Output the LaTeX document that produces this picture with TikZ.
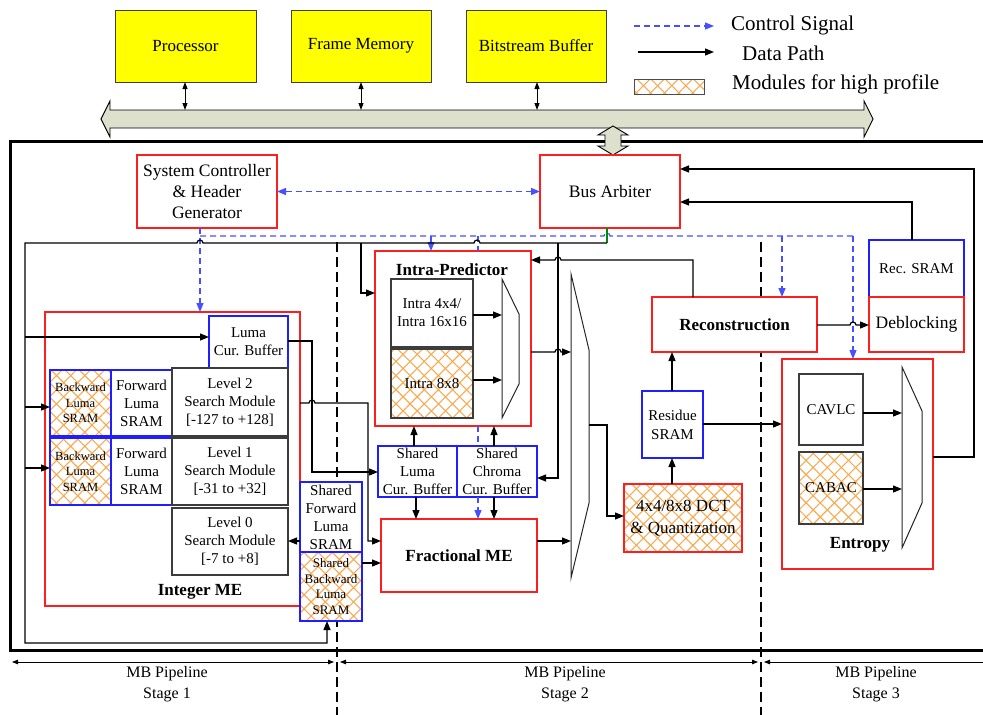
\documentclass[tikz,border=0pt]{standalone}
\usepackage{fontspec}
\setmainfont{Liberation Serif}
\usetikzlibrary{arrows.meta,patterns.meta}
\definecolor{cred}{RGB}{255,30,30}
\definecolor{cblue}{RGB}{30,30,255}
\definecolor{cgray}{RGB}{60,60,60}
\definecolor{cyellow}{RGB}{255,255,0}
\definecolor{chatch}{RGB}{248,170,80}
\definecolor{cctl}{RGB}{70,80,255}
\definecolor{cgreen}{RGB}{0,140,0}
\definecolor{cbus}{RGB}{221,224,204}
\newcommand\fsz[2]{\fontsize{#1pt}{#2pt}\selectfont}
\newcommand\bx[7]{\node[#1,minimum width={#5pt-#3pt},minimum height={#6pt-#4pt}] (#2) at ({(#3+#5)/2},{(#4+#6)/2}) {#7};}
\tikzset{
  base/.style={inner sep=0pt,outer sep=0pt,align=center,text=black,font=\fsz{15}{18}},
  redbox/.style={base,draw=cred,line width=1.4pt,fill=white},
  bluebox/.style={base,draw=cblue,line width=1.2pt,fill=white},
  graybox/.style={base,draw=cgray,line width=1.1pt,fill=white},
  ybox/.style={base,draw=black!75,line width=0.9pt,fill=cyellow,font=\fsz{17}{20}},
  hatched/.style={fill=none,
    preaction={fill=white},
    preaction={pattern={Lines[angle=45,distance=10pt,line width=1.1pt]},pattern color=chatch},
    preaction={pattern={Lines[angle=-45,distance=10pt,line width=1.1pt]},pattern color=chatch}},
  wire/.style={line width=1.2pt,draw=black},
  arr/.style={wire,-{Triangle[length=9pt,width=7pt]}},
  ctl/.style={draw=cctl,line width=1.2pt,dash pattern=on 6pt off 4pt},
  ctlarr/.style={ctl,-{Triangle[length=9pt,width=7pt]}},
  ctlarrs/.style={ctl,{Triangle[length=9pt,width=7pt]}-{Triangle[length=9pt,width=7pt]}},
  dblarr/.style={line width=1pt,{Triangle[length=7pt,width=5pt]}-{Triangle[length=7pt,width=5pt]}},
  pipedash/.style={line width=2.4pt,dash pattern=on 10pt off 5pt},
  pipearr/.style={line width=0.8pt,{Triangle[length=6pt,width=4.5pt]}-{Triangle[length=6pt,width=4.5pt]}},
  muxs/.style={line width=1pt,draw=black!85},
  bold/.style={inner sep=0pt,font=\bfseries\fsz{17}{20}},
  small/.style={font=\fsz{12.5}{15.5}},
}
\begin{document}
\begin{tikzpicture}[x=1pt,y=-1pt]
\useasboundingbox (0,0) rectangle (983,715);
% main frame
\draw[line width=3pt] (10,141) rectangle (995,650);
% pipeline separators
\draw[pipedash] (337,242) -- (337,715);
\draw[pipedash] (761,242) -- (761,715);
% bus
\draw[fill=cbus,line width=0.9pt] (101,119) -- (110,101) -- (110,110) -- (864,110) -- (864,101) -- (873,119) -- (864,137) -- (864,128) -- (110,128) -- (110,137) -- cycle;
\draw[fill=cbus,line width=0.9pt] (613,126) -- (628,135) -- (621,135) -- (621,146) -- (628,146) -- (613,155) -- (598,146) -- (605,146) -- (605,135) -- (598,135) -- cycle;
% external blocks
\bx{ybox}{proc}{115}{10}{256}{82}{Processor}
\bx{ybox}{fmem}{291}{10}{431}{82}{Frame Memory}
\bx{ybox}{bsb}{466}{10}{606}{82}{Bitstream Buffer}
\draw[dblarr] (proc.south -| 185,0) -- (185,110);
\draw[dblarr] (fmem.south -| 361,0) -- (361,110);
\draw[dblarr] (bsb.south -| 537,0) -- (537,110);
% legend
\coordinate (lgA1) at (634,26); \coordinate (lgA2) at (714,26);
\coordinate (lgB1) at (638,52); \coordinate (lgB2) at (714,52);
\draw[ctlarr] (lgA1) -- (lgA2);
\node[anchor=west,inner sep=0pt,font=\fsz{21}{24}] (lgAt) at (731,25) {Control Signal};
\draw[arr] (lgB1) -- (lgB2);
\node[anchor=west,inner sep=0pt,font=\fsz{21}{24}] (lgBt) at (742,53) {Data Path};
\bx{base,hatched,draw=black!70,line width=0.8pt}{lgC}{634}{79}{704}{94}{}
\node[anchor=west,inner sep=0pt,font=\fsz{21}{24}] (lgCt) at (732,84) {Modules for high profile};
% control blocks
\bx{redbox,font=\fsz{17.5}{21}}{syscon}{137}{155}{277}{228}{System Controller\\\& Header\\Generator}
\bx{redbox,font=\fsz{17.5}{21}}{arb}{540}{155}{680}{228}{Bus Arbiter}
% Integer ME
\bx{redbox}{ime}{45}{312}{300}{606}{}
\node[bold] (imel) at (200,592) {Integer ME};
\bx{bluebox}{lcb}{209}{316}{288}{368}{Luma\\Cur. Buffer}
\bx{bluebox,hatched,small}{bl2}{50}{370}{111}{436}{Backward\\Luma\\SRAM}
\bx{bluebox}{fl2}{111}{370}{172}{436}{Forward\\Luma\\SRAM}
\bx{graybox}{lv2}{172}{368}{288}{436}{Level 2\\Search Module\\{[-127 to +128]}}
\bx{bluebox,hatched,small}{bl1}{50}{438}{111}{505}{Backward\\Luma\\SRAM}
\bx{bluebox}{fl1}{111}{438}{172}{505}{Forward\\Luma\\SRAM}
\bx{graybox}{lv1}{172}{438}{288}{505}{Level 1\\Search Module\\{[-31 to +32]}}
\bx{graybox}{lv0}{172}{508}{288}{575}{Level 0\\Search Module\\{[-7 to +8]}}
\bx{bluebox}{sfl}{300}{482}{362}{552}{Shared\\Forward\\Luma\\SRAM}
\bx{bluebox,hatched,font=\fsz{13}{15.5}}{sbl}{300}{552}{362}{621}{Shared\\Backward\\Luma\\SRAM}
% Intra predictor
\bx{redbox}{intra}{375}{251}{531}{426}{}
\node[bold] (intral) at (452,270) {Intra-Predictor};
\bx{graybox}{i44}{391}{279}{473}{347}{Intra 4x4/\\Intra 16x16}
\bx{graybox,hatched}{i88}{391}{349}{473}{418}{Intra 8x8}
\bx{bluebox}{slcb}{378}{446}{457}{497}{Shared\\Luma\\Cur. Buffer}
\bx{bluebox}{sccb}{457}{446}{537}{497}{Shared\\Chroma\\Cur. Buffer}
\bx{redbox,font=\bfseries\fsz{17}{20}}{fme}{381}{519}{537}{592}{Fractional ME}
% stage 3 side
\bx{redbox,font=\bfseries\fsz{17}{20}}{recon}{652}{297}{817}{352}{Reconstruction}
\bx{bluebox}{rsram}{869}{240}{964}{297}{Rec. SRAM}
\bx{redbox,font=\fsz{17.5}{20}}{deblk}{869}{297}{964}{352}{Deblocking}
\bx{bluebox,font=\fsz{15}{19}}{res}{642}{391}{703}{458}{Residue\\SRAM}
\bx{redbox,hatched,font=\fsz{17}{22}}{dct}{624}{484}{742}{552}{4x4/8x8 DCT\\\& Quantization}
\bx{redbox}{ent}{782}{359}{933}{569}{}
\node[bold] (entl) at (860,545) {Entropy};
\bx{graybox}{cavlc}{799}{374}{863}{445}{CAVLC}
\bx{graybox,hatched}{cabac}{799}{452}{863}{524}{CABAC}
% muxes
\draw[muxs] (502,279) -- (519,314) -- (519,384) -- (502,418) -- cycle;
\draw[muxs] (571,274) -- (589,350) -- (589,503) -- (571,578) -- cycle;
\draw[muxs] (902,367) -- (922,411) -- (922,503) -- (902,548) -- cycle;
% control signals
\draw[ctlarrs] (syscon.east) -- (arb.west);
\draw[ctlarr] (syscon.south -| 200,0) -- (ime.north -| 200,0);
\draw[ctl] (200,236) -- (604,236) arc[start angle=180,end angle=360,radius=3] -- (853,236);
\draw[ctlarr] (853,236) -- (ent.north -| 853,0);
\draw[ctlarr] (431,236) -- (intra.north -| 431,0);
\draw[ctl] (478,236) -- (intra.north -| 478,0);
\draw[ctlarr] (782,236) -- (recon.north -| 782,0);
\draw[ctl] (intra.south -| 478,0) -- (sccb.north -| 478,0);
\draw[ctlarr] (sccb.south -| 478,0) -- (fme.north -| 478,0);
% data paths
\draw[line width=1.2pt,draw=cgreen] (arb.south -| 607,0) -- (607,243);
\draw[arr] (607,243) -- (480,243) arc[start angle=360,end angle=180,radius=3] -- (203,243) arc[start angle=360,end angle=180,radius=3] -- (25,243) -- (25,643) -- (327,643) -- (sbl.south -| 327,0);
\draw[arr] (25,337) -- (lcb.west |- 0,337);
\draw[arr] (25,407) -- (bl2.west |- 0,407);
\draw[arr] (25,468) -- (bl1.west |- 0,468);
\draw[arr] (361,243) -- (361,293) -- (intra.west |- 0,293);
\draw[arr] (558,243) -- (558,478) -- (sccb.east |- 0,478);
\draw[arr] (recon.north -| 693,0) -- (693,260) -- (561,260) arc[start angle=360,end angle=180,radius=3] -- (intra.east |- 0,260);
\draw[arr] (intra.east |- 0,352) -- (555,352) arc[start angle=180,end angle=360,radius=3] -- (571,352);
\draw[arr] (i44.east |- 0,315) -- (502,315);
\draw[arr] (i88.east |- 0,380) -- (502,380);
\draw[arr] (lcb.east |- 0,341) -- (312,341) -- (312,472) -- (slcb.west |- 0,472);
\draw[arr] (ime.east |- 0,403) -- (309,403) arc[start angle=180,end angle=360,radius=3] -- (368,403) -- (368,541) -- (fme.west |- 0,541);
\draw[arr] (sbl.east |- 0,563) -- (fme.west |- 0,563);
\draw[arr] (sfl.west |- 0,541) -- (lv0.east |- 0,541);
\draw[arr] (slcb.north -| 414,0) -- (intra.south -| 414,0);
\draw[arr] (sccb.north -| 494,0) -- (intra.south -| 494,0);
\draw[arr] (slcb.south -| 416,0) -- (fme.north -| 416,0);
\draw[arr] (sccb.south -| 494,0) -- (fme.north -| 494,0);
\draw[arr] (fme.east |- 0,541) -- (571,541);
\draw[arr] (589,425) -- (607,425) -- (607,516) -- (dct.west |- 0,516);
\draw[arr] (dct.north -| 672,0) -- (res.south -| 672,0);
\draw[arr] (res.north -| 672,0) -- (recon.south -| 672,0);
\draw[arr] (res.east |- 0,424) -- (ent.west |- 0,424);
\draw[arr] (recon.east |- 0,325) -- (850,325) arc[start angle=180,end angle=360,radius=3] -- (deblk.west |- 0,325);
\draw[arr] (rsram.north -| 912,0) -- (912,202) -- (arb.east |- 0,202);
\draw[arr] (ent.east |- 0,457) -- (974,457) -- (974,169) -- (arb.east |- 0,169);
\draw[arr] (cavlc.east |- 0,413) -- (902,413);
\draw[arr] (cabac.east |- 0,489) -- (902,489);
% pipeline stages
\coordinate (p0) at (12,662); \coordinate (p1a) at (334,662); \coordinate (p1b) at (340,662);
\coordinate (p2a) at (758,662); \coordinate (p2b) at (764,662); \coordinate (p3) at (990,662);
\draw[pipearr] (p0) -- (p1a);
\draw[pipearr] (p1b) -- (p2a);
\draw[pipearr] (p2b) -- (p3);
\node[align=center,inner sep=0pt,font=\fsz{16}{21}] (st1) at (167,684) {MB Pipeline\\Stage 1};
\node[align=center,inner sep=0pt,font=\fsz{16}{21}] (st2) at (565,684) {MB Pipeline\\Stage 2};
\node[align=center,inner sep=0pt,font=\fsz{16}{21}] (st3) at (876,684) {MB Pipeline\\Stage 3};
\end{tikzpicture}
\end{document}
